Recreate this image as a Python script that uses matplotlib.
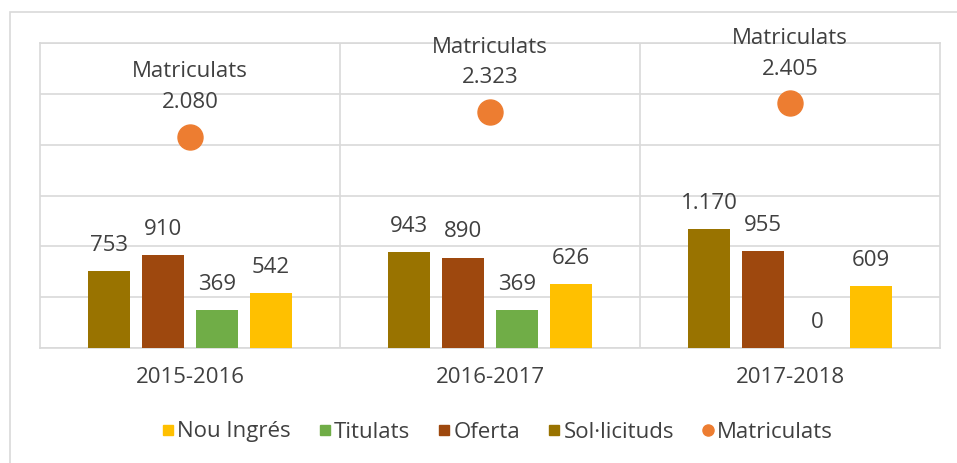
import matplotlib.pyplot as plt
import matplotlib.patches as patches
from matplotlib.lines import Line2D
import numpy as np

plt.rcParams['font.family'] = ['Open Sans', 'DejaVu Sans']

# Data
years = ['2015-2016', '2016-2017', '2017-2018']
sollicituds = [753, 943, 1170]
oferta = [910, 890, 955]
titulats = [369, 369, 0]
nou_ingres = [542, 626, 609]
matriculats = [2080, 2323, 2405]

text_color = '#404040'
grid_color = '#D9D9D9'
colors = {'Sol·licituds': '#997300', 'Oferta': '#9E480E',
          'Titulats': '#70AD47', 'Nou Ingrés': '#FFC000',
          'Matriculats': '#ED7D31'}
fs = 16


def fmt(v):
    # thousands separator as a dot
    return f'{v:,}'.replace(',', '.')


fig = plt.figure(figsize=(9.57, 4.63), dpi=100)
ax = fig.add_axes([40 / 957, 1 - 348 / 463, 900 / 957, 305 / 463])

x = np.arange(len(years))
width = 0.143
offsets = [-0.27, -0.09, 0.09, 0.27]
series = [('Sol·licituds', sollicituds), ('Oferta', oferta),
          ('Titulats', titulats), ('Nou Ingrés', nou_ingres)]

for (name, vals), off in zip(series, offsets):
    ax.bar(x + off, vals, width, color=colors[name], zorder=3)
    for xi, v in zip(x + off, vals):
        ax.annotate(fmt(v), (xi, v), xytext=(0, 11), textcoords='offset points',
                    ha='center', va='bottom', fontsize=fs, color=text_color)

ax.plot(x, matriculats, 'o', color=colors['Matriculats'], markersize=18, zorder=4)
for xi, v in zip(x, matriculats):
    ax.annotate(fmt(v), (xi, v), xytext=(0, 17), textcoords='offset points',
                ha='center', va='bottom', fontsize=fs, color=text_color)
    ax.annotate('Matriculats', (xi, v), xytext=(0, 39), textcoords='offset points',
                ha='center', va='bottom', fontsize=fs, color=text_color,
                annotation_clip=False)

ax.set_xlim(-0.5, 2.5)
ax.set_ylim(0, 3000)
ax.set_yticks(np.arange(0, 3001, 500))
ax.set_yticklabels([])
ax.yaxis.grid(True, color=grid_color, linewidth=1.2, zorder=0)
for b in [0.5, 1.5]:
    ax.axvline(b, color=grid_color, linewidth=1.2, zorder=0)
for s in ax.spines.values():
    s.set_color(grid_color)
    s.set_linewidth(1.2)
ax.tick_params(axis='both', length=0)
ax.tick_params(axis='x', pad=14, labelsize=fs, labelcolor=text_color)
ax.set_xticks(x)
ax.set_xticklabels(years)

handles = [Line2D([], [], marker='s', linestyle='', color=colors[n], markersize=7)
           for n in ['Nou Ingrés', 'Titulats', 'Oferta', 'Sol·licituds']]
handles.append(Line2D([], [], marker='o', linestyle='', color=colors['Matriculats'],
                      markersize=8))
labels = ['Nou Ingrés', 'Titulats', 'Oferta', 'Sol·licituds', 'Matriculats']
leg = fig.legend(handles, labels, loc='center', bbox_to_anchor=(496 / 957, 1 - 432 / 463),
                 ncol=5, frameon=False, fontsize=fs, handletextpad=0.0,
                 columnspacing=1.15, handlelength=0.8, labelcolor=text_color)

# outer chart border (left and top edges visible)
fig.patches.append(patches.Rectangle((10 / 957, -0.1), 1.1, 1 - 12 / 463 + 0.1,
                                     transform=fig.transFigure, fill=False,
                                     edgecolor='#D9D9D9', linewidth=1.2))

fig.savefig('out.png', dpi=100)
